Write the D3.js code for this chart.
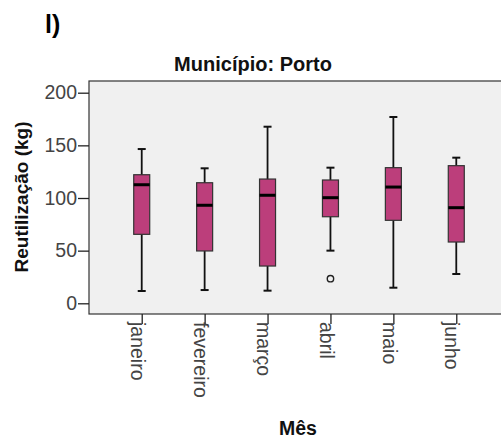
<!DOCTYPE html>
<html>
<head>
<meta charset="utf-8">
<script src="https://cdn.jsdelivr.net/npm/d3@7"></script>
<style>
  html, body { margin: 0; padding: 0; background: #fff; }
  svg { display: block; font-family: "Liberation Sans", Arial, sans-serif; }
</style>
</head>
<body>
<svg width="501" height="439"></svg>
<script>
// values (kg)
var months = ["janeiro", "fevereiro", "março", "abril", "maio", "junho"];
var whiskerLow = [11.7, 12.6, 12, 50, 14.8, 27.8];
var q1 = [65.5, 49.7, 35.4, 82.2, 78.8, 58.2];
var median = [112.6, 93.1, 102.6, 100.3, 110.4, 90.8];
var q3 = [122.1, 114.5, 118, 117.1, 128.8, 130.7];
var whiskerHigh = [146.5, 128.2, 167.7, 128.8, 176.9, 138.3];
var outliers = [[], [], [], [23.4], [], []];
var yTicks = [0, 50, 100, 150, 200];

var svg = d3.select("svg");
var plot = { left: 89, top: 81, right: 509, bottom: 314 };

var x = d3.scalePoint()
  .domain(months)
  .range([plot.left, plot.right])
  .padding(0.838);
var y = d3.scaleLinear()
  .domain([0, 200])
  .range([303.3, 92.7]);

var boxW = 16, capW = 8;
var fill = "#bc3e7b";

// panel letter and title
svg.append("text")
  .attr("x", 45).attr("y", 33)
  .style("font-family", "'Liberation Sans Narrow', 'Liberation Sans', Arial, sans-serif")
  .style("font-weight", "bold").style("font-size", "25px")
  .text("l)");

svg.append("text")
  .attr("x", 253).attr("y", 71)
  .attr("text-anchor", "middle")
  .style("font-weight", "bold").style("font-size", "20px")
  .attr("fill", "#111")
  .text("Município: Porto");

// plot background
svg.append("rect")
  .attr("x", plot.left).attr("y", plot.top)
  .attr("width", plot.right - plot.left).attr("height", plot.bottom - plot.top)
  .attr("fill", "#f0f0f0")
  .attr("stroke", "#333").attr("stroke-width", 1.2);

// y axis
var yAxis = svg.append("g")
  .attr("transform", "translate(" + plot.left + ",0)")
  .call(d3.axisLeft(y).tickValues(yTicks).tickSize(11).tickPadding(1).tickSizeOuter(0));
yAxis.select(".domain").remove();
yAxis.selectAll("line").attr("stroke", "#222").attr("stroke-width", 1.3);
yAxis.selectAll("text")
  .style("font-size", "19.5px")
  .style("font-family", "'Liberation Sans', Arial, sans-serif")
  .attr("fill", "#444");

// x axis
var xAxis = svg.append("g")
  .attr("transform", "translate(0," + plot.bottom + ")")
  .call(d3.axisBottom(x).tickSize(10).tickSizeOuter(0));
xAxis.select(".domain").remove();
xAxis.selectAll("line").attr("stroke", "#222").attr("stroke-width", 1.3);
xAxis.selectAll("text")
  .attr("transform", "translate(0,8) rotate(90)")
  .attr("x", 0).attr("y", 0).attr("dy", "0.58em")
  .attr("text-anchor", "start")
  .style("font-size", "19.5px")
  .style("font-family", "'Liberation Sans', Arial, sans-serif")
  .attr("fill", "#444");

// axis titles
svg.append("text")
  .attr("transform", "translate(28,197) rotate(-90)")
  .attr("text-anchor", "middle")
  .style("font-weight", "bold").style("font-size", "19px")
  .attr("fill", "#111")
  .text("Reutilização (kg)");

svg.append("text")
  .attr("x", 298).attr("y", 435)
  .attr("text-anchor", "middle")
  .style("font-weight", "bold").style("font-size", "19.5px")
  .attr("fill", "#111")
  .text("Mês");

// boxes
var stats = months.map(function (m, i) {
  return { m: m, lo: whiskerLow[i], q1: q1[i], med: median[i], q3: q3[i], hi: whiskerHigh[i], out: outliers[i] };
});

var g = svg.append("g").selectAll("g")
  .data(stats)
  .join("g")
  .attr("transform", function (d) { return "translate(" + x(d.m) + ",0)"; });

g.append("line")
  .attr("x1", 0).attr("x2", 0)
  .attr("y1", function (d) { return y(d.hi); })
  .attr("y2", function (d) { return y(d.lo); })
  .attr("stroke", "#111").attr("stroke-width", 1.8);

g.selectAll(".cap")
  .data(function (d) { return [d.lo, d.hi]; })
  .join("line")
  .attr("class", "cap")
  .attr("x1", -capW / 2).attr("x2", capW / 2)
  .attr("y1", function (v) { return y(v); })
  .attr("y2", function (v) { return y(v); })
  .attr("stroke", "#111").attr("stroke-width", 2);

g.append("rect")
  .attr("x", -boxW / 2).attr("width", boxW)
  .attr("y", function (d) { return y(d.q3); })
  .attr("height", function (d) { return y(d.q1) - y(d.q3); })
  .attr("fill", fill)
  .attr("stroke", "#333").attr("stroke-width", 1.2);

g.append("line")
  .attr("x1", -boxW / 2).attr("x2", boxW / 2)
  .attr("y1", function (d) { return y(d.med); })
  .attr("y2", function (d) { return y(d.med); })
  .attr("stroke", "#000").attr("stroke-width", 3);

g.selectAll(".out")
  .data(function (d) { return d.out; })
  .join("circle")
  .attr("class", "out")
  .attr("cx", 0)
  .attr("cy", function (v) { return y(v); })
  .attr("r", 3.2)
  .attr("fill", "none")
  .attr("stroke", "#222").attr("stroke-width", 1.4);
</script>
</body>
</html>
